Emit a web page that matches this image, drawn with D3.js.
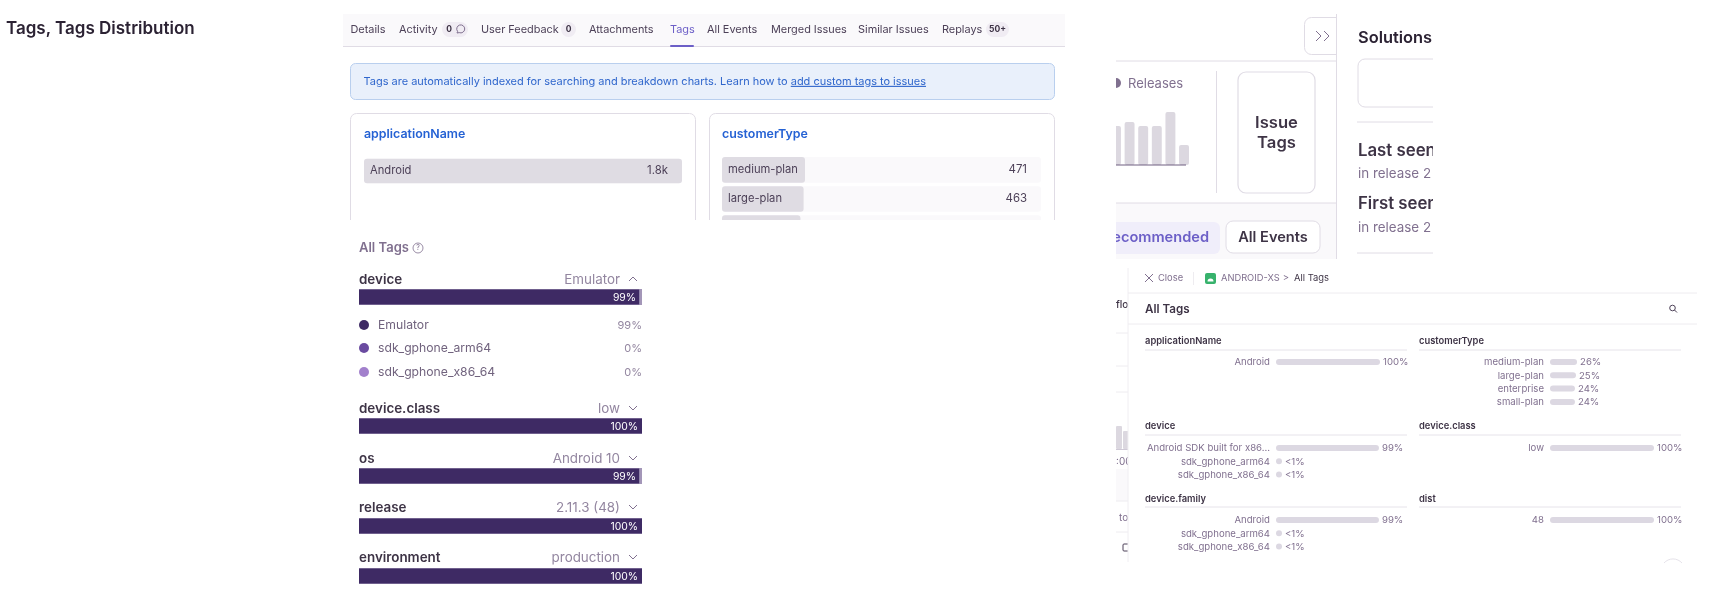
<!DOCTYPE html>
<html>
<head>
<meta charset="utf-8">
<script src="https://d3js.org/d3.v7.min.js"></script>
<style>
  body { margin: 0; background: #fff; }
  text { font-family: Inter, sans-serif; }
  .soft { filter: blur(0.35px); }
</style>
</head>
<body>
<div id="chart"></div>
<script>
// top tab strip
var tabNames = ["Details", "Activity", "User Feedback", "Attachments", "Tags", "All Events", "Merged Issues", "Similar Issues", "Replays"];
var tabBadges = ["", "0", "0", "", "", "", "", "", "50+"];

// tag cards with absolute counts
var appNames = ["Android"];
var appCounts = [1800];
var appCountLabels = ["1.8k"];
var customerNames = ["medium-plan", "large-plan", ""];
var customerCounts = [471, 463, 445];
var customerCountLabels = ["471", "463", ""];

// the releases mini chart
var releaseBuckets = ["a", "b", "c", "d", "e", "f"];
var releaseValues = [39, 43, 39, 39, 53, 20];

// All Tags, percentage bars
var allTagNames = ["device", "device.class", "os", "release", "environment"];
var allTagTop = ["Emulator", "low", "Android 10", "2.11.3 (48)", "production"];
var allTagPct = [99, 100, 99, 100, 100];
var deviceItems = ["Emulator", "sdk_gphone_arm64", "sdk_gphone_x86_64"];
var deviceItemPct = [99, 0, 0];

// All Tags drawer
var drawerLeftTitles = ["applicationName", "device", "device.family"];
var drawerRightTitles = ["customerType", "device.class", "dist"];
var drawerLeftLabels = [["Android"], ["Android SDK built for x86…", "sdk_gphone_arm64", "sdk_gphone_x86_64"], ["Android", "sdk_gphone_arm64", "sdk_gphone_x86_64"]];
var drawerLeftPct = [[100], [99, 0.5, 0.5], [99, 0.5, 0.5]];
var drawerRightLabels = [["medium-plan", "large-plan", "enterprise", "small-plan"], ["low"], ["48"]];
var drawerRightPct = [[26, 25, 24, 24], [100], [100]];

var width = 1714;
var height = 604;
var ink = "#3e3446";
var grey = "#80708f";
var border = "#e0dce5";
var dark = "#3e2a64";

var svg = d3.select("#chart").append("svg")
    .attr("width", width)
    .attr("height", height)
    .style("display", "block");

var defs = svg.append("defs");

function clipRect(id, x, y, w, h) {
  defs.append("clipPath").attr("id", id).append("rect")
      .attr("x", x).attr("y", y).attr("width", w).attr("height", h);
}

function label(g, x, y, str, size, color, weight, anchor) {
  return g.append("text")
      .attr("x", x)
      .attr("y", y)
      .attr("dy", "0.35em")
      .attr("font-size", size)
      .attr("fill", color)
      .attr("font-weight", weight || 400)
      .attr("text-anchor", anchor || "start")
      .text(str);
}

function box(g, x, y, w, h, r, fill, stroke) {
  return g.append("rect")
      .attr("x", x).attr("y", y)
      .attr("width", w).attr("height", h)
      .attr("rx", r)
      .attr("fill", fill)
      .attr("stroke", stroke || "none");
}

function hline(g, x1, x2, y, color) {
  g.append("line").attr("x1", x1).attr("x2", x2).attr("y1", y).attr("y2", y).attr("stroke", color);
}

function vline(g, x, y1, y2, color) {
  g.append("line").attr("x1", x).attr("x2", x).attr("y1", y1).attr("y2", y2).attr("stroke", color);
}

label(svg.append("g").attr("class", "soft"), 6, 28, "Tags, Tags Distribution", 17, "#2b2233", 600);

// ---- tags tab screenshot
clipRect("clip-tabs", 343, 14, 722, 206);
var tabs = svg.append("g").attr("clip-path", "url(#clip-tabs)").append("g").attr("class", "soft");

box(tabs, 343, 14, 722, 33, 0, "#faf9fb");
hline(tabs, 343, 1065, 46.5, border);

var tabX = [350.5, 399, 481, 589, 670, 707, 771, 858, 942];
var badgeBox = [null, [442, 26], [561, 15], null, null, null, null, null, [986, 23]];

tabNames.forEach(function(name, i) {
  label(tabs, tabX[i], 29, name, 10.9, name === "Tags" ? "#6c5fc7" : "#4d4158");
  if (tabBadges[i] !== "") {
    box(tabs, badgeBox[i][0], 22, badgeBox[i][1], 15, 7.5, "#f0ecf3");
    label(tabs, badgeBox[i][0] + (i === 1 ? 7 : badgeBox[i][1] / 2), 29.5, tabBadges[i], 8.5, "#3e3446", 700, "middle");
  }
});
tabs.append("path")
    .attr("d", "M457 33l.6-1.6a4 4 0 1 1 1.6 1.2z")
    .attr("fill", "none").attr("stroke", grey);
box(tabs, 670, 45, 24, 2, 1, "#6c5fc7");

box(tabs, 350.5, 63.5, 704, 36, 5, "#e9f0fb", "#b9cfee");
var alert = tabs.append("text").attr("x", 363.6).attr("y", 81).attr("dy", "0.35em")
    .attr("font-size", 10.96).attr("fill", "#2f66cc");
alert.append("tspan").text("Tags are automatically indexed for searching and breakdown charts. Learn how to ");
alert.append("tspan").attr("text-decoration", "underline").text("add custom tags to issues");

box(tabs, 350.5, 113.5, 345, 140, 6, "#fff", border);
box(tabs, 709.5, 113.5, 345, 140, 6, "#fff", border);
label(tabs, 364, 134, "applicationName", 12.4, "#2562d4", 600);
label(tabs, 722, 134, "customerType", 12.4, "#2562d4", 600);

function countBars(g, x0, names, counts, countLabels, total) {
  var w = names.length === 1 ? 318 : 319;
  var x = d3.scaleLinear().domain([0, total]).range([0, w]);
  var y = d3.scaleBand().domain(d3.range(names.length)).range([157, 157 + names.length * 28]).paddingInner(0.12);
  names.forEach(function(n, i) {
    var yc = y(i) + y.bandwidth() / 2 - 1;
    box(g, x0, y(i), w, y.bandwidth(), 3, "#faf9fb");
    box(g, x0, y(i), x(counts[i]), y.bandwidth(), 3, "#dfdce3");
    label(g, x0 + 6, yc, n, 11.2, "#4d4158");
    label(g, x0 + w - 14, yc, countLabels[i], 11.4, "#4d4158", 400, "end");
  });
}
countBars(tabs, 364, appNames, appCounts, appCountLabels, 1800);
countBars(tabs, 722, customerNames, customerCounts, customerCountLabels, 1810);

// ---- sidebar and issue tags screenshot
clipRect("clip-side", 1116, 14, 317, 245);
var side = svg.append("g").attr("clip-path", "url(#clip-side)").append("g").attr("class", "soft");

box(side, 1116, 203, 220, 56, 0, "#faf9fb");
hline(side, 1116, 1336, 61, border);
hline(side, 1116, 1336, 203, border);
vline(side, 1216.5, 71, 193, border);

box(side, 1304.5, 17.5, 50, 37, 7, "#fff", border);
side.append("rect").attr("x", 1337).attr("y", 14).attr("width", 100).attr("height", 245).attr("fill", "#fff");
vline(side, 1336.5, 14, 259, border);
side.append("path")
    .attr("d", "M1316 31l5 5-5 5M1324 31l5 5-5 5")
    .attr("fill", "none").attr("stroke", "#80708f");

side.append("circle").attr("cx", 1116).attr("cy", 83).attr("r", 5).attr("fill", grey);
label(side, 1128, 83, "Releases", 13, grey);

var xRel = d3.scaleBand().domain(releaseBuckets).range([1111, 1189]).paddingInner(0.27);
var yRel = d3.scaleLinear().domain([0, 53]).range([165, 112]);
side.selectAll(".rel").data(releaseValues).enter().append("rect")
    .attr("class", "rel")
    .attr("x", function(d, i) { return xRel(releaseBuckets[i]); })
    .attr("y", function(d) { return yRel(d); })
    .attr("width", xRel.bandwidth())
    .attr("height", function(d) { return yRel(0) - yRel(d); })
    .attr("rx", 2)
    .attr("fill", "#dcd8e0");
hline(side, 1116, 1186, 165, "#6e5f80");

box(side, 1238, 72, 77, 121, 8, "#fff", border).attr("stroke-width", 1.2);
label(side, 1276.5, 122, "Issue", 16.6, "#3e3446", 600, "middle");
label(side, 1276.5, 142, "Tags", 16.6, "#3e3446", 600, "middle");

box(side, 1100, 222, 120, 32, 6, "#f0eefa");
label(side, 1209, 237, "Recommended", 14.6, "#6c5fc7", 600, "end");
box(side, 1226, 221, 94, 32, 7, "#fff", border);
label(side, 1273, 237, "All Events", 14.6, "#3e3446", 600, "middle");

label(side, 1358, 37, "Solutions", 16.4, "#2b2233", 600);
box(side, 1358, 59, 120, 48, 7, "#fff", border);
hline(side, 1357, 1433, 122, border);
label(side, 1358, 150, "Last seen", 16.8, "#3e3446", 600);
label(side, 1358, 173, "in release 2", 13.4, grey);
label(side, 1358, 203, "First seen", 16.8, "#3e3446", 600);
label(side, 1358, 227, "in release 2", 13.4, grey);
hline(side, 1357, 1433, 253, border);

// ---- all tags percentage bars
var tagsG = svg.append("g").attr("class", "soft");
label(tagsG, 359, 247, "All Tags", 13, grey, 600);
tagsG.append("circle").attr("cx", 418).attr("cy", 248).attr("r", 5).attr("fill", "none").attr("stroke", grey).attr("stroke-width", 0.8);
label(tagsG, 418, 248, "?", 7, grey, 400, "middle");

var xPct = d3.scaleLinear().domain([0, 100]).range([359, 642]);
var tagNameY = [279, 408, 458, 507, 557];
var tagBarY = [289, 418, 468, 518, 568];

allTagNames.forEach(function(name, i) {
  label(tagsG, 359, tagNameY[i], name, 13.4, ink, 600);
  label(tagsG, 620, tagNameY[i], allTagTop[i], 13.4, "#9386a0", 400, "end");
  var up = i === 0;
  tagsG.append("path")
      .attr("d", up ? "M629 " + (tagNameY[i] + 2) + "l4-4 4 4" : "M629 " + (tagNameY[i] - 2) + "l4 4 4-4")
      .attr("fill", "none").attr("stroke", "#80708f");
  box(tagsG, xPct(0), tagBarY[i], xPct(100) - xPct(0), 16, 0, "#a396b8");
  box(tagsG, xPct(0), tagBarY[i] + 0.5, xPct(allTagPct[i]) - xPct(0), 15, 0, dark);
  label(tagsG, allTagPct[i] === 100 ? 638 : 636, tagBarY[i] + 8, allTagPct[i] + "%", 10.4, "#fff", 400, "end");
});

var itemColors = [dark, "#6a4ba0", "#a280cc"];
var itemY = [325, 348, 372];
deviceItems.forEach(function(name, i) {
  tagsG.append("circle").attr("cx", 364).attr("cy", itemY[i]).attr("r", 5).attr("fill", itemColors[i]);
  label(tagsG, 378, itemY[i], name, 12.2, "#71637e");
  label(tagsG, 642, itemY[i], deviceItemPct[i] + "%", 11, "#9386a0", 400, "end");
});

// ---- page behind the drawer, only a strip of it shows
clipRect("clip-stub", 1116, 255, 12, 309);
var stubG = svg.append("g").attr("clip-path", "url(#clip-stub)").append("g").attr("class", "soft");
box(stubG, 1116, 469, 12, 32, 0, "#faf9fb");
hline(stubG, 1116, 1128, 333, "#eeecf0");
hline(stubG, 1116, 1128, 366, "#eeecf0");
hline(stubG, 1116, 1128, 392, "#eeecf0");
hline(stubG, 1116, 1128, 501, "#eeecf0");
hline(stubG, 1116, 1128, 532, "#eeecf0");
box(stubG, 1116, 426, 6, 23, 1, "#dcd8e0");
box(stubG, 1123, 431, 6, 18, 1, "#dcd8e0");
hline(stubG, 1116, 1128, 449.5, "#cfc9d6");
label(stubG, 1116, 304, "flow", 10, ink, 500);
label(stubG, 1116, 461, ":00", 10, "#80708f");
label(stubG, 1119, 517, "to:", 10, "#80708f");
box(stubG, 1123, 544, 8, 7, 1, "none", "#4d4158");

// ---- all tags drawer
var drawer = svg.append("g").attr("class", "soft");
box(drawer, 1128, 260, 569, 303, 0, "#fff");
vline(drawer, 1128, 268, 562, "#f0eef2");
hline(drawer, 1128, 1697, 293, "#eeecf0");
hline(drawer, 1128, 1697, 324, "#eeecf0");

drawer.append("path").attr("d", "M1145 274l8 8M1153 274l-8 8").attr("stroke", grey).attr("fill", "none");
label(drawer, 1158, 278, "Close", 9.4, grey);
vline(drawer, 1193.5, 272, 285, "#eeecf0");
box(drawer, 1205, 273, 11, 11, 2, "#37b26c");
drawer.append("path").attr("d", "M1207.5 281.5a3 3 0 0 1 6 0z").attr("fill", "#fff");
label(drawer, 1221, 278, "ANDROID-XS", 9.3, grey);
label(drawer, 1286, 278, ">", 9.6, grey, 400, "middle");
label(drawer, 1294, 278, "All Tags", 9.4, ink);

label(drawer, 1145, 309, "All Tags", 11.6, ink, 600);
drawer.append("circle").attr("cx", 1672.5).attr("cy", 308).attr("r", 2.8).attr("fill", "none").attr("stroke", "#4d4158");
drawer.append("line").attr("x1", 1674.5).attr("y1", 310).attr("x2", 1677).attr("y2", 312.5).attr("stroke", "#4d4158");

var sectionTitleY = [341, 426, 499];
var sectionLineY = [350, 435, 507];
var rowStartY = [362, 448, 520];
var rowStep = 13.3;

function drawerColumn(titles, labels, pcts, left, right, labelRight, barLeft) {
  var x = d3.scaleLinear().domain([0, 100]).range([0, 104]);
  titles.forEach(function(title, s) {
    label(drawer, left, sectionTitleY[s], title, 9.4, ink, 600);
    hline(drawer, left, right, sectionLineY[s], "#e6e3ea");
    labels[s].forEach(function(name, i) {
      var y = rowStartY[s] + i * rowStep;
      var w = Math.max(x(pcts[s][i]), 6);
      label(drawer, labelRight, y, name, 9.6, "#80708f", 400, "end");
      box(drawer, barLeft, y - 3, w, 6, 3, "#dcd8e2");
      var pctText = pcts[s][i] < 1 ? "<1%" : pcts[s][i] + "%";
      label(drawer, barLeft + w + 3, y, pctText, 9.6, "#80708f");
    });
  });
}
drawerColumn(drawerLeftTitles, drawerLeftLabels, drawerLeftPct, 1145, 1407, 1270, 1276);
drawerColumn(drawerRightTitles, drawerRightLabels, drawerRightPct, 1419, 1681, 1544, 1550);

drawer.append("path").attr("d", "M1664 563a12 12 0 0 1 18 0").attr("fill", "none").attr("stroke", "#e6e3ea");
</script>
</body>
</html>
